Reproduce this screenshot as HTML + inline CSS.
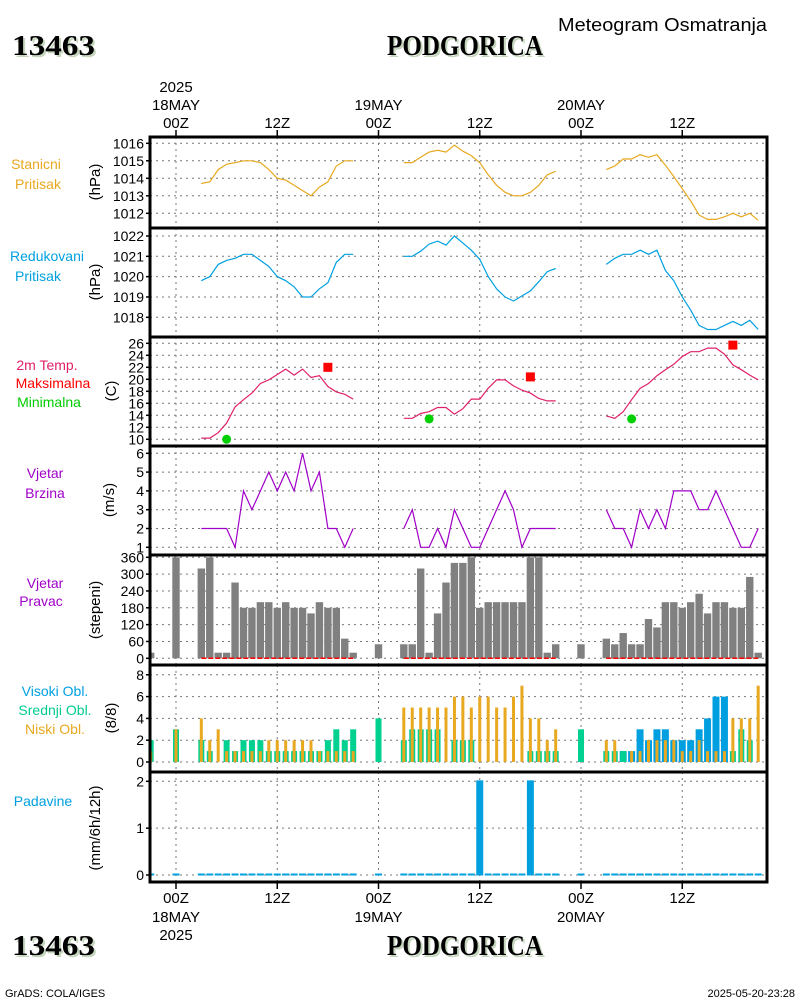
<!DOCTYPE html>
<html><head><meta charset="utf-8">
<style>
body{margin:0;background:#fff;}
svg{display:block;font-family:"Liberation Sans",sans-serif;}
.t{font-size:13px;fill:#000;}
.ttl{font-family:"Liberation Serif",serif;font-weight:bold;font-size:28px;}
</style></head>
<body>
<svg id="chart" width="800" height="1000" viewBox="0 0 800 1000">
<defs></defs>
<g>
  <text x="14" y="57" class="ttl" fill="#c5d6bd" textLength="83" lengthAdjust="spacingAndGlyphs">13463</text>
  <text x="12" y="55" class="ttl" fill="#000" textLength="83" lengthAdjust="spacingAndGlyphs">13463</text>
  <text x="389" y="57" class="ttl" fill="#c5d6bd" textLength="156" lengthAdjust="spacingAndGlyphs">PODGORICA</text>
  <text x="387" y="55" class="ttl" fill="#000" textLength="156" lengthAdjust="spacingAndGlyphs">PODGORICA</text>
  <text x="558" y="31" font-size="18" fill="#000" textLength="209" lengthAdjust="spacingAndGlyphs">Meteogram Osmatranja</text>
</g>
<g font-size="14" text-anchor="middle">
  <text x="36" y="169" fill="#e8a820">Stanicni</text>
  <text x="38" y="189" fill="#e8a820">Pritisak</text>
  <text x="47" y="261" fill="#00a0e0">Redukovani</text>
  <text x="38" y="281" fill="#00a0e0">Pritisak</text>
  <text x="47" y="370" fill="#e0206a">2m Temp.</text>
  <text x="53" y="388" fill="#ff0000">Maksimalna</text>
  <text x="49" y="407" fill="#00cc00">Minimalna</text>
  <text x="45" y="478" fill="#a000c8">Vjetar</text>
  <text x="45" y="498" fill="#a000c8">Brzina</text>
  <text x="45" y="588" fill="#a000c8">Vjetar</text>
  <text x="41" y="606" fill="#a000c8">Pravac</text>
  <text x="55" y="696" fill="#00a0e0">Visoki Obl.</text>
  <text x="55" y="715" fill="#00cc90">Srednji Obl.</text>
  <text x="55" y="734" fill="#e8a820">Niski Obl.</text>
  <text x="43" y="806" fill="#00a0e0">Padavine</text>
</g>
<g font-size="15" text-anchor="middle">
  <text transform="translate(100,182) rotate(-90)">(hPa)</text>
  <text transform="translate(100,282) rotate(-90)">(hPa)</text>
  <text transform="translate(116,391) rotate(-90)">(C)</text>
  <text transform="translate(114,500) rotate(-90)">(m/s)</text>
  <text transform="translate(100,610) rotate(-90)">(stepeni)</text>
  <text transform="translate(116,718) rotate(-90)">(8/8)</text>
  <text transform="translate(100,828) rotate(-90)">(mm/6h/12h)</text>
</g>
<g id="plot"></g>
<g>
  <text x="14" y="957" class="ttl" fill="#c5d6bd" textLength="83" lengthAdjust="spacingAndGlyphs">13463</text>
  <text x="12" y="955" class="ttl" fill="#000" textLength="83" lengthAdjust="spacingAndGlyphs">13463</text>
  <text x="389" y="957" class="ttl" fill="#c5d6bd" textLength="156" lengthAdjust="spacingAndGlyphs">PODGORICA</text>
  <text x="387" y="955" class="ttl" fill="#000" textLength="156" lengthAdjust="spacingAndGlyphs">PODGORICA</text>
  <text x="5" y="997" font-size="11">GrADS: COLA/IGES</text>
  <text x="795" y="997" font-size="11" text-anchor="end">2025-05-20-23:28</text>
</g>
</svg>
<script>
// ---- data ----
const segStarts = [3, 27, 51];
const stnP1 = [1013.7,1013.8,1014.5,1014.8,1014.9,1015.0,1015.0,1014.9,1014.5,1014.0,1013.9,1013.6,1013.3,1013.0,1013.5,1013.8,1014.7,1015.0,1015.0];
const stnP2 = [1014.9,1014.9,1015.2,1015.5,1015.6,1015.5,1015.9,1015.55,1015.3,1014.9,1014.2,1013.6,1013.2,1013.0,1013.0,1013.2,1013.6,1014.2,1014.4];
const stnP3 = [1014.5,1014.7,1015.1,1015.1,1015.35,1015.2,1015.35,1014.75,1014.1,1013.4,1012.7,1011.9,1011.65,1011.65,1011.8,1012.0,1011.8,1012.0,1011.6];
const redP1 = [1019.8,1020.0,1020.6,1020.8,1020.9,1021.1,1021.1,1020.8,1020.5,1020.0,1019.8,1019.5,1019.0,1019.0,1019.4,1019.7,1020.7,1021.1,1021.1];
const redP2 = [1021.0,1021.0,1021.25,1021.6,1021.75,1021.55,1022.0,1021.65,1021.3,1020.85,1020.0,1019.4,1019.0,1018.8,1019.05,1019.3,1019.75,1020.25,1020.4];
const redP3 = [1020.6,1020.9,1021.1,1021.1,1021.3,1021.1,1021.3,1020.3,1019.8,1019.0,1018.35,1017.6,1017.4,1017.4,1017.6,1017.8,1017.6,1017.85,1017.4];
const temp1 = [10.2,10.2,11.1,12.7,15.4,16.6,17.7,19.3,19.9,20.8,21.7,20.7,21.7,20.3,20.6,18.8,17.9,17.5,16.7];
const temp2 = [13.5,13.5,14.3,14.6,15.3,15.3,14.2,15.1,16.7,16.7,18.5,19.9,19.9,18.9,18.2,17.7,16.8,16.4,16.4];
const temp3 = [13.9,13.5,14.6,16.6,18.5,19.3,20.6,21.6,22.5,23.8,24.6,24.6,25.2,25.2,24.2,22.4,21.6,20.7,19.9];
const maxHours = [18, 42, 66];
const maxTemps = [22, 20.4, 25.7];
const minHours = [6, 30, 54];
const minTemps = [10, 13.4, 13.4];
const wspd1 = [2,2,2,2,1,4,3,4,5,4,5,4,6,4,5,2,2,1,2];
const wspd2 = [2,3,1,1,2,1,3,2,1,1,2,3,4,3,1,2,2,2,2];
const wspd3 = [3,2,2,1,3,2,3,2,4,4,4,3,3,4,3,2,1,1,2];
const obsHours = [-3,0,3,4,5,6,7,8,9,10,11,12,13,14,15,16,17,18,19,20,21,24,27,28,29,30,31,32,33,34,35,36,37,38,39,40,41,42,43,44,45,48,51,52,53,54,55,56,57,58,59,60,61,62,63,64,65,66,67,68,69];
const wdir = [20,360,320,360,20,20,270,180,180,200,200,180,200,180,180,160,200,180,180,70,20,50,50,50,320,20,160,270,340,340,360,180,200,200,200,200,200,360,360,20,50,50,70,50,90,50,50,140,110,200,200,180,200,230,160,200,200,180,180,290,20];
const cloudHigh = [0,0,0,0,0,0,0,0,0,0,0,0,0,0,0,0,0,0,0,0,0,0,0,0,0,0,0,0,0,0,0,0,0,0,0,0,0,0,0,0,0,0,0,0,1,1,3,2,3,3,2,2,2,3,4,6,6,0,0,0,0];
const cloudMid  = [2,3,2,1,0,2,1,2,2,2,1,1,1,1,1,1,1,2,3,2,3,4,2,3,3,3,3,0,2,2,2,0,0,0,0,0,0,1,1,1,1,3,1,1,1,0,0,0,0,0,0,0,0,0,0,0,0,1,3,2,0];
const cloudLow  = [1,3,4,2,3,1,1,1,1,1,2,2,2,2,2,2,1,1,1,1,1,0,5,5,5,5,5,5,6,6,5,6,6,5,5,6,7,4,4,2,3,0,2,2,0,1,1,2,2,2,2,1,1,2,1,1,1,4,4,4,7];
const precip = [0,0,0,0,0,0,0,0,0,0,0,0,0,0,0,0,0,0,0,0,0,0,0,0,0,0,0,0,0,0,0,2.02,0,0,0,0,0,2.02,0,0,0,0,0,0,0,0,0,0,0,0,0,0,0,0,0,0,0,0,0,0,0];
const yTicksStn = [1012,1013,1014,1015,1016];
const yTicksRed = [1018,1019,1020,1021,1022];
const yTicksTemp = [10,12,14,16,18,20,22,24,26];
const yTicksWspd = [1,2,3,4,5,6];
const yTicksWdir = [0,60,120,180,240,300,360];
const yTicksCloud = [0,2,4,6,8];
const yTicksPrecip = [0,1,2];
const timeTickHours = [0,12,24,36,48,60];
const timeTickLabels = ["00Z","12Z","00Z","12Z","00Z","12Z"];
const dateTickHours = [0,24,48];
const dateTickLabels = ["18MAY","19MAY","20MAY"];

// ---- axes ----
const X0 = 150, X1 = 767;
const xH = h => 176 + h * 8.4375;
const yStn = v => 213.3 - (v - 1012) * 17.5;
const yRed = v => 317.3 - (v - 1018) * 20.33;
const yTemp = v => 439.3 - (v - 10) * 6;
const yWspd = v => 547.3 - (v - 1) * 18.8;
const yWdir = v => 658.3 - v * 0.2806;
const yCloud = v => 762 - v * 10.9;
const yPrec = v => 875 - v * 46.85;
const panels = [[137,228],[228,337],[337,446],[446,555],[555,665],[665,772],[772,882]];

const NS = "http://www.w3.org/2000/svg";
const plot = document.getElementById("plot");
function mk(tag, attrs, parent) {
  const e = document.createElementNS(NS, tag);
  for (const k in attrs) e.setAttribute(k, attrs[k]);
  (parent || plot).appendChild(e);
  return e;
}

// grid
const grid = mk("g", {});


panels.forEach(p => {
  timeTickHours.forEach(h => {
    const l = mk("line", {x1: xH(h), x2: xH(h), y1: p[0], y2: p[1], stroke: "#777", "stroke-dasharray": "2,4", "stroke-width": 1}, grid);
    
    
  });
});
function yAxis(ticks, fy, name) {
  const g = mk("g", {});
  
  
  ticks.forEach(v => {
    const y = fy(v);
    const gl = mk("line", {x1: X0, x2: X1, y1: y, y2: y, stroke: "#777", "stroke-dasharray": "2,4"}, g);
    
    
    const tk = mk("line", {x1: X0 - 4, x2: X0, y1: y, y2: y, stroke: "#000", "stroke-width": 1.5}, g);
    
    
    const t = mk("text", {x: X0 - 6, y: y + 5, "text-anchor": "end", "font-size": 14}, g);
    
    
    t.textContent = v;
  });
}
yAxis(yTicksStn, yStn, "y-axis-station-pressure");
yAxis(yTicksRed, yRed, "y-axis-reduced-pressure");
yAxis(yTicksTemp, yTemp, "y-axis-temperature");
yAxis(yTicksWspd, yWspd, "y-axis-wind-speed");
yAxis(yTicksWdir, yWdir, "y-axis-wind-direction");
yAxis(yTicksCloud, yCloud, "y-axis-cloud");
yAxis(yTicksPrecip, yPrec, "y-axis-precip");

// lines
function drawLine(vals, start, fy, color, name) {
  const pts = vals.map((v, i) => xH(start + i).toFixed(1) + "," + fy(v).toFixed(1)).join(" ");
  const pl = mk("polyline", {points: pts, fill: "none", stroke: color, "stroke-width": 1.2});
  
  
}
[stnP1, stnP2, stnP3].forEach((s, i) => drawLine(s, segStarts[i], yStn, "#e8a820", "station-pressure-line"));
[redP1, redP2, redP3].forEach((s, i) => drawLine(s, segStarts[i], yRed, "#00a0e0", "reduced-pressure-line"));
[temp1, temp2, temp3].forEach((s, i) => drawLine(s, segStarts[i], yTemp, "#e0206a", "temperature-line"));
[wspd1, wspd2, wspd3].forEach((s, i) => drawLine(s, segStarts[i], yWspd, "#a000c8", "wind-speed-line"));

maxHours.forEach((h, i) => {
  const r = mk("rect", {x: xH(h) - 4.5, y: yTemp(maxTemps[i]) - 4.5, width: 9, height: 9, fill: "#f00"});
  
  
});
minHours.forEach((h, i) => {
  const c = mk("circle", {cx: xH(h), cy: yTemp(minTemps[i]), r: 4.5, fill: "#00d000"});
  
  
});

// wind direction bars
const clip = mk("clipPath", {id: "pc"}, document.querySelector("defs"));
mk("rect", {x: X0, y: 0, width: X1 - X0, height: 1000}, clip);
const bars = mk("g", {"clip-path": "url(#pc)"});


obsHours.forEach((h, i) => {
  const y = yWdir(wdir[i]);
  const r = mk("rect", {x: xH(h) - 3.7, y: y, width: 7.4, height: yWdir(0) - y, fill: "#808080"}, bars);
  
  
});
segStarts.forEach(s => {
  const l = mk("line", {x1: xH(s), x2: xH(s + 18), y1: yWdir(0), y2: yWdir(0), stroke: "#f00", "stroke-width": 1.5, "stroke-dasharray": "5,2"}, bars);
  
  
});
// clouds
obsHours.forEach((h, i) => {
  const x = xH(h);
  if (cloudHigh[i] > 0) {
    const r = mk("rect", {x: x - 3.5, y: yCloud(cloudHigh[i]), width: 7, height: yCloud(0) - yCloud(cloudHigh[i]), fill: "#00a0e0"}, bars);
    
    
  }
  if (cloudMid[i] > 0) {
    const r = mk("rect", {x: x - 3, y: yCloud(cloudMid[i]), width: 6, height: yCloud(0) - yCloud(cloudMid[i]), fill: "#00d090"}, bars);
    
    
  }
  if (cloudLow[i] > 0) {
    const r = mk("rect", {x: x - 1.5, y: yCloud(cloudLow[i]), width: 3, height: yCloud(0) - yCloud(cloudLow[i]), fill: "#e8a820"}, bars);
    
    
  }
  const pv = precip[i];
  const top = Math.min(yPrec(pv), yPrec(0) - 1.5);
  const pr = mk("rect", {x: x - 3.5, y: top, width: 7, height: yPrec(0) + 0.5 - top, fill: "#00a0e0"}, bars);
  
  
});

// panel borders
panels.forEach(p => {
  const r = mk("rect", {x: X0, y: p[0], width: X1 - X0, height: p[1] - p[0], fill: "none", stroke: "#000", "stroke-width": 3});
  
  
});
// time axes
timeTickHours.forEach((h, i) => {
  const x = xH(h);
  const a = mk("line", {x1: x, x2: x, y1: 130, y2: 137, stroke: "#000", "stroke-width": 1.5});
  
  
  const b = mk("line", {x1: x, x2: x, y1: 882, y2: 889, stroke: "#000", "stroke-width": 1.5});
  
  
  const t1 = mk("text", {x: x, y: 128, "text-anchor": "middle", "font-size": 15});
  
  
  t1.textContent = timeTickLabels[i];
  const t2 = mk("text", {x: x, y: 903, "text-anchor": "middle", "font-size": 15});
  
  
  t2.textContent = timeTickLabels[i];
});
dateTickHours.forEach((h, i) => {
  const x = xH(h);
  const t1 = mk("text", {x: x, y: 110, "text-anchor": "middle", "font-size": 15});
  
  
  t1.textContent = dateTickLabels[i];
  const t2 = mk("text", {x: x, y: 922, "text-anchor": "middle", "font-size": 15});
  
  
  t2.textContent = dateTickLabels[i];
});
const y1 = mk("text", {x: xH(0), y: 92, "text-anchor": "middle", "font-size": 15});


y1.textContent = "2025";
const y2 = mk("text", {x: xH(0), y: 940, "text-anchor": "middle", "font-size": 15});


y2.textContent = "2025";
</script>
</body></html>
